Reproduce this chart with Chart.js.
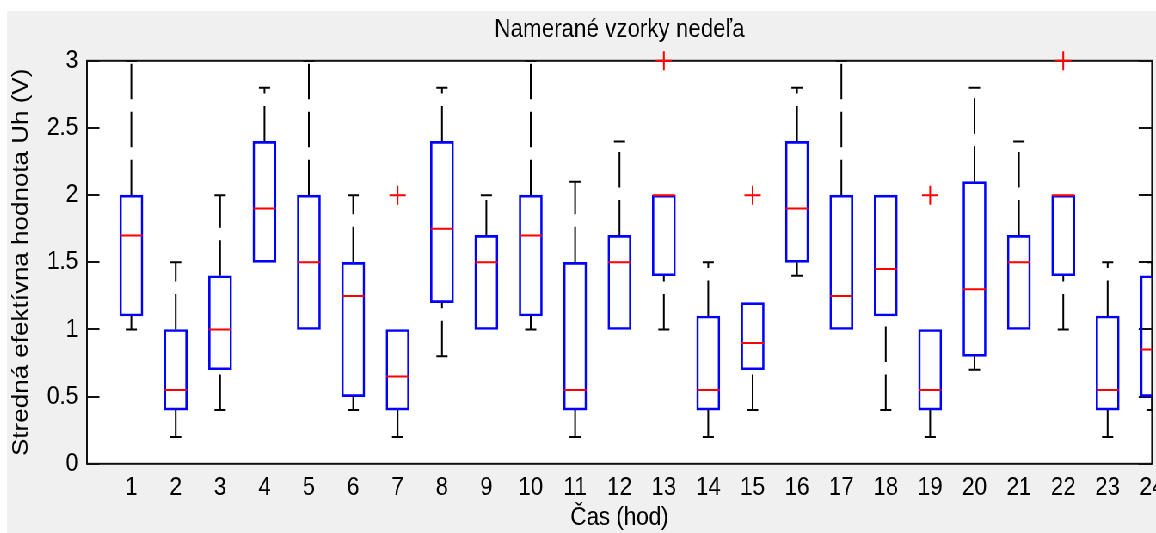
<!DOCTYPE html>
<html>
<head>
<meta charset="utf-8">
<script src="https://cdn.jsdelivr.net/npm/chart.js@4.4.0/dist/chart.umd.min.js"></script>
<style>
  html, body { margin: 0; padding: 0; background: #fff; overflow: hidden; }
  /* the figure is drawn wide and squeezed horizontally, like the exported plot */
  #wrap {
    position: absolute; left: 7px; top: 11px;
    width: 1336px; height: 522px;
    background: #f0f0f0;
    transform: scaleX(0.86); transform-origin: 0 0;
  }
</style>
</head>
<body>
<div id="wrap"><canvas id="chart" width="1336" height="522"></canvas></div>
<script>
var hours = ['1','2','3','4','5','6','7','8','9','10','11','12','13','14','15','16','17','18','19','20','21','22','23','24'];

// box statistics per hour
var q1 =          [1.1, 0.4, 0.7, 1.5, 1.0, 0.5, 0.4, 1.2, 1.0, 1.1, 0.4, 1.0, 1.4, 0.4, 0.7, 1.5, 1.0, 1.1, 0.4, 0.8, 1.0, 1.4, 0.4, 0.5];
var median =      [1.7, 0.55, 1.0, 1.9, 1.5, 1.25, 0.65, 1.75, 1.5, 1.7, 0.55, 1.5, 2.0, 0.55, 0.9, 1.9, 1.25, 1.45, 0.55, 1.3, 1.5, 2.0, 0.55, 0.85];
var q3 =          [2.0, 1.0, 1.4, 2.4, 2.0, 1.5, 1.0, 2.4, 1.7, 2.0, 1.5, 1.7, 2.0, 1.1, 1.2, 2.4, 2.0, 2.0, 1.0, 2.1, 1.7, 2.0, 1.1, 1.4];
var whiskerLow =  [1.0, 0.2, 0.4, 1.5, 1.0, 0.4, 0.2, 0.8, 1.0, 1.0, 0.2, 1.0, 1.0, 0.2, 0.4, 1.4, 1.0, 0.4, 0.2, 0.7, 1.0, 1.0, 0.2, 0.4];
var whiskerHigh = [3.0, 1.5, 2.0, 2.8, 3.0, 2.0, 1.0, 2.8, 2.0, 3.0, 2.1, 2.4, 2.0, 1.5, 1.2, 2.8, 3.0, 2.0, 1.0, 2.8, 2.4, 2.0, 1.5, 1.5];

// outliers
var outlierHour =  ['7', '13', '15', '19', '22'];
var outlierValue = [2.0, 3.0, 2.0, 2.0, 3.0];

var yTicks = ['0', '0.5', '1', '1.5', '2', '2.5', '3'];

var FONT = "'Liberation Sans', Arial, sans-serif";
Chart.defaults.font.family = FONT;
Chart.defaults.color = '#000';

// build the point lists
var boxes = [];
var medians = [];
var caps = [];
var whiskers = [];
for (var i = 0; i < hours.length; i++) {
  var x = Number(hours[i]);
  boxes.push({x: x, y: [q1[i], q3[i]]});
  medians.push({x: x, y: median[i]});
  // whisker segments go bottom -> top so the dashes start at the lower end
  if (whiskerHigh[i] !== q3[i]) {
    caps.push({x: x, y: whiskerHigh[i]});
    whiskers.push({x: x, y: q3[i]}, {x: x, y: whiskerHigh[i]}, {x: x, y: null});
  }
  if (whiskerLow[i] !== q1[i]) {
    caps.push({x: x, y: whiskerLow[i]});
    whiskers.push({x: x, y: whiskerLow[i]}, {x: x, y: q1[i]}, {x: x, y: null});
  }
}
var outliers = outlierHour.map(function (h, i) {
  return {x: Number(h), y: outlierValue[i]};
});

function yTickValues(axis) {
  axis.ticks = yTicks.map(function (t) { return {value: parseFloat(t)}; });
}

// no extra room for labels hanging past the axes ends
function noOverflow(axis) {
  axis.paddingLeft = 0;
  axis.paddingRight = 0;
  axis.paddingTop = 0;
  axis.paddingBottom = 0;
}

// white axes background with the black frame
var plotBox = {
  id: 'plotBox',
  beforeDraw: function (chart) {
    var a = chart.chartArea;
    var ctx = chart.ctx;
    ctx.save();
    ctx.fillStyle = '#fff';
    ctx.fillRect(a.left, a.top, a.right - a.left, a.bottom - a.top);
    ctx.strokeStyle = '#111';
    ctx.lineWidth = 2;
    ctx.strokeRect(a.left, a.top, a.right - a.left, a.bottom - a.top);
    ctx.restore();
  }
};

var chart = new Chart(document.getElementById('chart'), {
  type: 'bar',
  data: {
    datasets: [
      {
        type: 'scatter',
        data: outliers,
        pointStyle: 'cross',
        pointRadius: 9.5,
        pointBorderColor: '#ff0000',
        pointBorderWidth: 2,
        clip: false,
        order: 0
      },
      {
        type: 'scatter',
        data: medians,
        pointStyle: 'line',
        pointRadius: 13,
        pointBorderColor: '#ff0000',
        pointBorderWidth: 2,
        clip: 0,
        order: 1
      },
      {
        type: 'bar',
        data: boxes,
        backgroundColor: 'rgba(0,0,0,0)',
        borderColor: '#0000ff',
        borderWidth: 2,
        borderSkipped: false,
        barThickness: 27,
        clip: 0,
        order: 2
      },
      {
        type: 'scatter',
        data: caps,
        pointStyle: 'line',
        pointRadius: 6.5,
        pointBorderColor: '#000',
        pointBorderWidth: 2,
        order: 3
      },
      {
        type: 'line',
        data: whiskers,
        borderColor: '#000',
        borderWidth: 2,
        borderDash: [35.5, 12.5],
        pointRadius: 0,
        spanGaps: false,
        order: 4
      }
    ]
  },
  options: {
    responsive: false,
    animation: false,
    events: [],
    layout: {padding: 0, autoPadding: false},
    plugins: {
      legend: {display: false},
      tooltip: {enabled: false},
      title: {
        display: true,
        text: 'Namerané vzorky nedeľa',
        color: '#000',
        fullSize: false,
        font: {family: FONT, size: 26, weight: 'normal'},
        padding: {top: 3.7, bottom: 14.9}
      }
    },
    scales: {
      x: {
        type: 'linear',
        min: 0,
        max: 24,
        offset: false,
        grid: {display: false, drawTicks: false},
        border: {display: false},
        afterBuildTicks: function (axis) {
          axis.ticks = hours.map(function (h) { return {value: Number(h)}; });
        },
        afterFit: function (axis) {
          axis.height = 69.2;
          noOverflow(axis);
        },
        ticks: {
          autoSkip: false,
          maxRotation: 0,
          padding: 8.6,
          color: '#000',
          font: {family: FONT, size: 26},
          callback: function (v, i) { return hours[i]; }
        },
        title: {
          display: true,
          text: 'Čas (hod)',
          color: '#000',
          font: {family: FONT, size: 26},
          padding: {top: 0, bottom: 0}
        }
      },
      y: {
        type: 'linear',
        position: 'left',
        min: 0,
        max: 3,
        afterBuildTicks: yTickValues,
        afterFit: function (axis) {
          axis.width = 93.0;
          noOverflow(axis);
        },
        grid: {drawOnChartArea: false, drawTicks: true, tickLength: -14.5, color: '#111', lineWidth: 2},
        border: {display: false},
        ticks: {
          padding: 24.9,
          color: '#000',
          font: {family: FONT, size: 26},
          callback: function (v, i) { return yTicks[i]; }
        },
        title: {
          display: true,
          text: 'Stredná efektívna hodnota Uh (V)',
          color: '#000',
          font: {family: FONT, size: 26},
          padding: {top: 1, bottom: 0}
        }
      },
      y2: {
        type: 'linear',
        position: 'right',
        min: 0,
        max: 3,
        afterBuildTicks: yTickValues,
        afterFit: function (axis) {
          axis.width = 4.6;
          noOverflow(axis);
        },
        grid: {drawOnChartArea: false, drawTicks: true, tickLength: -15.5, color: '#111', lineWidth: 2},
        border: {display: false},
        ticks: {display: false}
      }
    }
  },
  plugins: [plotBox]
});
</script>
</body>
</html>
